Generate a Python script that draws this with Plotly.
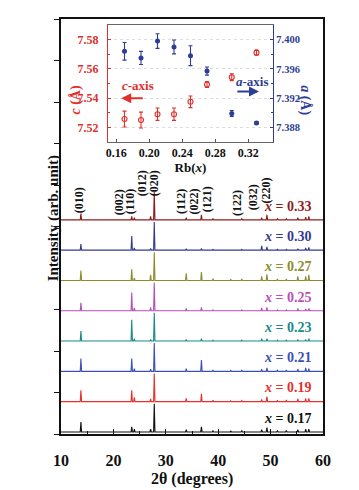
import plotly.graph_objects as go

# ---------------- data ----------------
samples = ["0.17", "0.19", "0.21", "0.23", "0.25", "0.27", "0.30", "0.33"]
colors = ["#111111", "#e8302c", "#3a50b4", "#178a8a", "#b84fb8", "#8c8c2c", "#363a8e", "#8e1c1c"]
offsets = [0.05, 0.78, 1.51, 2.24, 2.97, 3.70, 4.43, 5.16]

peak_pos = [13.8, 23.5, 24.0, 27.1, 27.8, 33.9, 36.8, 39.0, 42.4, 44.5,
            48.3, 49.3, 51.3, 53.0, 55.2, 56.7, 57.3]
intens = {
    "0.17": [35, 18, 10, 10, 100, 8, 18, 4, 3, 4, 8, 15, 4, 5, 8, 10, 10],
    "0.19": [40, 40, 15, 10, 100, 12, 28, 5, 3, 4, 8, 18, 5, 6, 10, 12, 12],
    "0.21": [45, 45, 10, 8, 100, 10, 40, 4, 3, 4, 8, 12, 4, 5, 8, 12, 10],
    "0.23": [35, 75, 8, 6, 100, 6, 8, 3, 2, 3, 8, 8, 3, 3, 4, 4, 8],
    "0.25": [28, 65, 10, 12, 100, 8, 12, 3, 2, 3, 10, 12, 3, 3, 8, 6, 8],
    "0.27": [35, 40, 8, 20, 100, 25, 30, 6, 3, 5, 15, 22, 5, 5, 15, 15, 20],
    "0.30": [22, 50, 8, 6, 100, 5, 6, 3, 2, 3, 15, 12, 3, 3, 5, 8, 10],
    "0.33": [22, 12, 8, 12, 100, 8, 18, 4, 2, 4, 8, 18, 4, 4, 8, 10, 12],
}

hkl_labels = ["(010)", "(002)", "(110)", "(012)", "(020)", "(112)", "(022)", "(121)", "(122)", "(032)", "(220)"]
hkl_x = [13.5, 21.1, 23.2, 25.5, 27.8, 32.9, 35.3, 37.9, 43.6, 46.7, 49.2]
hkl_y = [5.64, 5.59, 5.59, 6.05, 6.05, 5.59, 5.59, 5.66, 5.57, 5.71, 5.88]

rb_x = [0.17, 0.19, 0.21, 0.23, 0.25, 0.27, 0.30, 0.33]
c_val = [7.5257, 7.5250, 7.5290, 7.5290, 7.5375, 7.5493, 7.5543, 7.5711]
c_err = [0.0054, 0.0054, 0.0042, 0.0042, 0.0040, 0.0020, 0.0023, 0.0018]
a_val = [7.3984, 7.3975, 7.3998, 7.3990, 7.3978, 7.3957, 7.3899, 7.3886]
a_err = [0.0012, 0.0009, 0.0010, 0.00095, 0.00136, 0.00055, 0.0004, 0.0002]

# ---------------- figure ----------------
FONT = "Liberation Serif, Times New Roman, Times, serif"
SCALE = 0.0068   # intensity units -> offset units
HW = 0.13        # half width of the drawn peaks (deg)
RED = "#e0302c"
BLUE = "#2e3c94"

fig = go.Figure()

for s, col, off in zip(samples, colors, offsets):
    xs = [10.0]
    ys = [off]
    for p, h in zip(peak_pos, intens[s]):
        xs += [p - HW, p, p + HW]
        ys += [off, off + h * SCALE, off]
    xs.append(60.0)
    ys.append(off)
    fig.add_trace(go.Scatter(x=xs, y=ys, mode="lines", line=dict(color=col, width=1.1),
                             showlegend=False, hoverinfo="skip", xaxis="x", yaxis="y"))
    fig.add_annotation(x=58.1, y=off + 0.33, xref="x", yref="y", xanchor="right", yanchor="middle",
                       text="<i>x</i> = " + s, showarrow=False,
                       font=dict(family=FONT, size=14, color=col, weight="bold"))

for lab, hx, hy in zip(hkl_labels, hkl_x, hkl_y):
    fig.add_annotation(x=hx, y=hy, xref="x", yref="y", text=lab, textangle=-90, showarrow=False,
                       xanchor="center", yanchor="middle",
                       font=dict(family=FONT, size=12, color="#111111", weight="bold"))

# inset
fig.add_trace(go.Scatter(x=rb_x, y=c_val, mode="markers",
                         marker=dict(symbol="circle-open", size=5, color=RED, line=dict(width=1.1)),
                         error_y=dict(type="data", array=c_err, color=RED, thickness=1.1, width=2),
                         showlegend=False, xaxis="x2", yaxis="y2"))
fig.add_trace(go.Scatter(x=rb_x, y=a_val, mode="markers",
                         marker=dict(symbol="circle", size=5, color=BLUE),
                         error_y=dict(type="data", array=a_err, color=BLUE, thickness=1.1, width=2),
                         showlegend=False, xaxis="x2", yaxis="y3"))

# inset text + arrows
fig.add_annotation(x=0.186, y=7.5485, xref="x2", yref="y2", text="<i>c</i>-axis", showarrow=False,
                   font=dict(family=FONT, size=13, color=RED, weight="bold"))
fig.add_annotation(x=0.166, y=7.540, ax=0.194, ay=7.540, xref="x2", yref="y2", axref="x2", ayref="y2",
                   text="", showarrow=True, arrowhead=2, arrowsize=1, arrowwidth=2, arrowcolor=RED)
fig.add_annotation(x=0.325, y=7.5515, xref="x2", yref="y2", text="<i>a</i>-axis", showarrow=False,
                   font=dict(family=FONT, size=13, color=BLUE, weight="bold"))
fig.add_annotation(x=0.333, y=7.5445, ax=0.305, ay=7.5445, xref="x2", yref="y2", axref="x2", ayref="y2",
                   text="", showarrow=True, arrowhead=2, arrowsize=1, arrowwidth=2, arrowcolor=BLUE)

# axis titles as annotations
fig.add_annotation(x=-0.07, y=0.52, xref="paper", yref="paper", text="Intensity (arb. unit)", textangle=-90,
                   showarrow=False, font=dict(family=FONT, size=15, color="#111111", weight="bold"))
fig.add_annotation(x=0.5, y=(434 - 479) / 415, xref="paper", yref="paper", text="2θ (degrees)",
                   xanchor="center", yanchor="middle", showarrow=False,
                   font=dict(family=FONT, size=16, color="#111111", weight="bold"))
fig.add_annotation(x=0.018, y=0.845, xref="paper", yref="paper", text="<i>c</i> (Å)", textangle=-90,
                   showarrow=False, font=dict(family=FONT, size=14, color=RED, weight="bold"))
fig.add_annotation(x=0.97, y=0.845, xref="paper", yref="paper", text="<i>a</i> (Å)", textangle=90,
                   showarrow=False, font=dict(family=FONT, size=14, color=BLUE, weight="bold"))

tickfont_main = dict(family=FONT, size=16, color="#111111", weight="bold")
IX = [(108 - 61) / 262, (273 - 61) / 262]
IY = [(434 - 142) / 415, (434 - 25) / 415]

fig.update_layout(
    width=359, height=490,
    margin=dict(l=61, r=36, t=19, b=56, autoexpand=False),
    paper_bgcolor="white", plot_bgcolor="white",
    font=dict(family=FONT),
    xaxis=dict(range=[10, 60], tick0=10, dtick=10, ticks="inside", ticklen=5, tickwidth=1.2,
               tickcolor="#111", minor=dict(dtick=5, ticks="inside", ticklen=3, tickcolor="#111"),
               showline=True, linecolor="#111", linewidth=1.5, mirror=True, showgrid=False,
               zeroline=False, tickfont=tickfont_main, ticklabelstandoff=11, automargin=False),
    yaxis=dict(range=[0, 10], tick0=0, dtick=1, ticks="outside", ticklen=5, tickwidth=1.2,
               tickcolor="#111", showticklabels=False, showline=True, linecolor="#111", linewidth=1.5,
               mirror=True, showgrid=False, zeroline=False, automargin=False),
    xaxis2=dict(domain=IX, anchor="y2", range=[0.15, 0.35], tick0=0.16, dtick=0.04, tickformat=".2f",
                ticks="inside", ticklen=3, tickcolor="#555", showline=True, linecolor="#666", linewidth=1,
                mirror=True, showgrid=False, zeroline=False, automargin=False,
                tickfont=dict(family=FONT, size=12, color="#111", weight="bold"),
                title=dict(text="Rb(<i>x</i>)", font=dict(family=FONT, size=13, color="#111", weight="bold"),
                           standoff=1)),
    yaxis2=dict(domain=IY, anchor="x2", range=[7.51, 7.59], tick0=7.52, dtick=0.02, tickformat=".2f",
                ticks="inside", ticklen=3, tickcolor=RED, showline=True, linecolor=RED,
                linewidth=1.3, showgrid=True, gridcolor="#dddddd", griddash="dot", gridwidth=1,
                zeroline=False, minor=dict(dtick=0.01, ticks="inside", ticklen=2, tickcolor=RED),
                ticklabelstandoff=6, automargin=False,
                tickfont=dict(family=FONT, size=12, color=RED, weight="bold")),
    yaxis3=dict(overlaying="y2", side="right", anchor="x2", range=[7.386, 7.402], tick0=7.388, dtick=0.004,
                tickformat=".3f", ticks="inside", ticklen=3, tickcolor=BLUE, showline=True,
                linecolor=BLUE, linewidth=1.3, showgrid=False, zeroline=False, automargin=False,
                minor=dict(dtick=0.002, ticks="inside", ticklen=2, tickcolor=BLUE),
                ticklabelstandoff=0,
                tickfont=dict(family=FONT, size=10.5, color=BLUE, weight="bold")),
)

fig.write_html("out.html")
